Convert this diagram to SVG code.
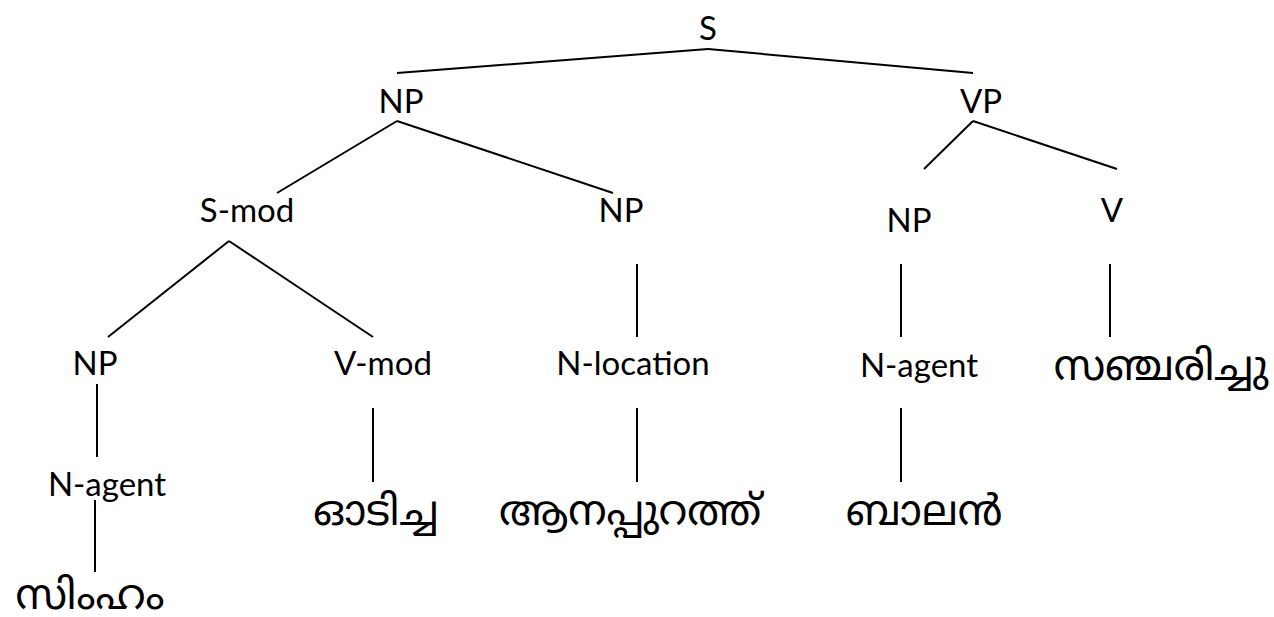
<svg xmlns="http://www.w3.org/2000/svg" width="1274" height="617" viewBox="0 0 1274 617">
<style>
.lbl{font-family:Lato,"Liberation Sans",sans-serif;font-size:33px;fill:#000;text-anchor:middle}
.ml{font-family:"Noto Sans Malayalam","Noto Sans","DejaVu Sans",sans-serif;font-size:42px;fill:#000;text-anchor:middle}
.edges line{stroke:#000;stroke-width:2}
</style>
<rect width="1274" height="617" fill="#fff"/>
<g class="edges" id="connectors">
<line x1="708" y1="49" x2="397" y2="73"/>
<line x1="708" y1="49" x2="973" y2="73"/>
<line x1="397" y1="121" x2="277" y2="193"/>
<line x1="397" y1="121" x2="613" y2="193"/>
<line x1="973" y1="121" x2="924" y2="169"/>
<line x1="973" y1="121" x2="1117" y2="169"/>
<line x1="229" y1="241" x2="108" y2="337"/>
<line x1="229" y1="241" x2="373" y2="337"/>
<line x1="637" y1="264" x2="637" y2="337"/>
<line x1="901" y1="264" x2="901" y2="337"/>
<line x1="1110" y1="264" x2="1110" y2="337"/>
<line x1="97" y1="384" x2="97" y2="457"/>
<line x1="373" y1="408" x2="373" y2="482"/>
<line x1="637" y1="408" x2="637" y2="482"/>
<line x1="901" y1="408" x2="901" y2="482"/>
<line x1="95" y1="500" x2="95" y2="572"/>
</g>
<g id="n-S"><text class="lbl" x="708" y="40">S</text></g>
<g id="n-NP1"><text class="lbl" x="401" y="113">NP</text></g>
<g id="n-VP"><text class="lbl" x="981" y="113">VP</text></g>
<g id="n-Smod"><text class="lbl" x="247" y="222">S-mod</text></g>
<g id="n-NP2"><text class="lbl" x="621" y="222">NP</text></g>
<g id="n-NP3"><text class="lbl" x="909" y="232">NP</text></g>
<g id="n-V"><text class="lbl" x="1112" y="222">V</text></g>
<g id="n-NP4"><text class="lbl" x="95" y="375">NP</text></g>
<g id="n-Vmod"><text class="lbl" x="383" y="375">V-mod</text></g>
<g id="n-Nloc"><text class="lbl" x="633" y="375">N-location</text></g>
<g id="n-Nagent2"><text class="lbl" x="919" y="377">N-agent</text></g>
<g id="n-Nagent1"><text class="lbl" x="107" y="496">N-agent</text></g>
<g id="n-simham"><text class="ml" x="90" y="609">സിംഹം</text></g>
<g id="n-odicha"><text class="ml" x="376" y="525">ഓടിച്ച</text></g>
<g id="n-aanappurath"><text class="ml" x="630" y="525">ആനപ്പുറത്ത്</text></g>
<g id="n-balan"><text class="ml" x="924" y="525">ബാലൻ</text></g>
<g id="n-sancharichu"><text class="ml" x="1161" y="380">സഞ്ചരിച്ചു</text></g>
</svg>
